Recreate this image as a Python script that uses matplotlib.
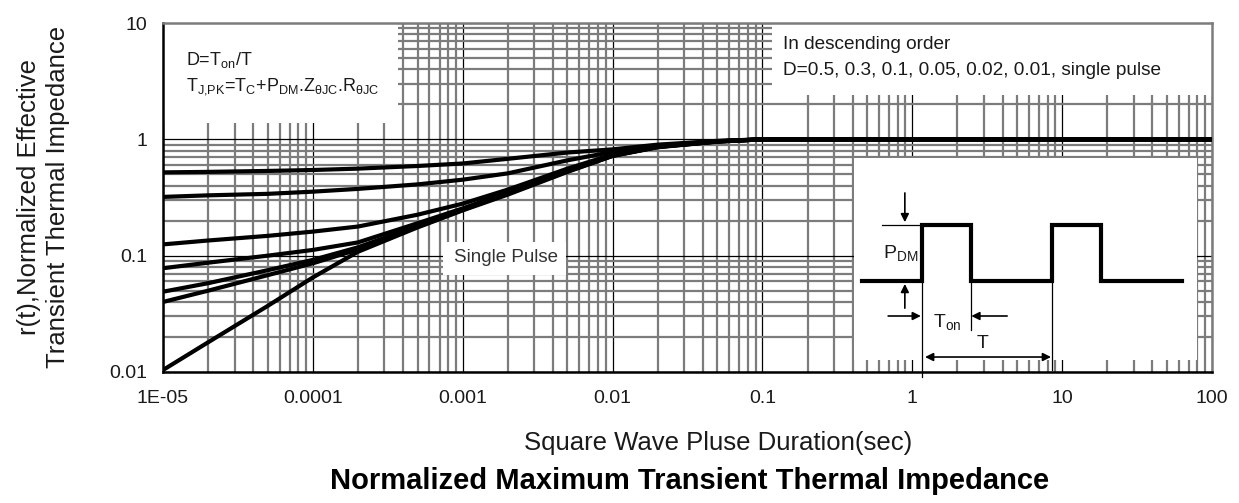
import matplotlib
matplotlib.use("Agg")
import matplotlib.pyplot as plt
from matplotlib.patches import Rectangle
from matplotlib.ticker import FixedLocator, FixedFormatter, LogLocator, NullFormatter

plt.rcParams['font.family'] = ['Liberation Sans', 'DejaVu Sans']
plt.rcParams['mathtext.fontset'] = 'custom'
plt.rcParams['mathtext.rm'] = 'Liberation Sans'
plt.rcParams['mathtext.it'] = 'Liberation Sans:italic'

# pulse duration (sec)
t = [1e-5, 2e-5, 5e-5, 1e-4, 2e-4, 5e-4, 1e-3, 2e-3, 5e-3, 1e-2, 2e-2, 5e-2, 1e-1, 1, 10, 100]

# r(t) for each duty cycle
d050 = [0.52, 0.525, 0.535, 0.545, 0.56, 0.59, 0.62, 0.68, 0.77, 0.82, 0.90, 0.97, 1.0, 1.0, 1.0, 1.0]
d030 = [0.32, 0.33, 0.34, 0.355, 0.375, 0.41, 0.45, 0.51, 0.66, 0.78, 0.88, 0.965, 1.0, 1.0, 1.0, 1.0]
d010 = [0.125, 0.135, 0.148, 0.161, 0.178, 0.225, 0.28, 0.37, 0.56, 0.74, 0.87, 0.96, 1.0, 1.0, 1.0, 1.0]
d005 = [0.078, 0.087, 0.10, 0.112, 0.13, 0.19, 0.255, 0.35, 0.54, 0.73, 0.865, 0.96, 1.0, 1.0, 1.0, 1.0]
d002 = [0.049, 0.058, 0.075, 0.092, 0.118, 0.18, 0.25, 0.345, 0.535, 0.725, 0.86, 0.958, 1.0, 1.0, 1.0, 1.0]
d001 = [0.040, 0.050, 0.068, 0.086, 0.113, 0.177, 0.248, 0.34, 0.53, 0.72, 0.86, 0.958, 1.0, 1.0, 1.0, 1.0]
single = [0.0104, 0.018, 0.037, 0.065, 0.108, 0.175, 0.245, 0.335, 0.525, 0.72, 0.855, 0.955, 1.0, 1.0, 1.0, 1.0]
curves = [d050, d030, d010, d005, d002, d001, single]

xticks = [1e-5, 1e-4, 1e-3, 1e-2, 1e-1, 1, 10, 100]
xticklabels = ['1E-05', '0.0001', '0.001', '0.01', '0.1', '1', '10', '100']
yticks = [0.01, 0.1, 1, 10]
yticklabels = ['0.01', '0.1', '1', '10']

# square wave sketch in the inset (arbitrary units)
wave_t = [2.5, 19.7, 19.7, 33.8, 33.8, 57.1, 57.1, 71.2, 71.2, 94.5]
wave_p = [25.5, 25.5, 41.2, 41.2, 25.5, 25.5, 41.2, 41.2, 25.5, 25.5]

fig = plt.figure(figsize=(12.39, 5.03), dpi=100)
ax = fig.add_axes([163/1239, 1-372/503, 1049/1239, 349/503])
ax.set_xscale('log')
ax.set_yscale('log')
ax.set_xlim(1e-5, 100)
ax.set_ylim(0.01, 10)

ax.xaxis.set_major_locator(FixedLocator(xticks))
ax.xaxis.set_major_formatter(FixedFormatter(xticklabels))
ax.yaxis.set_major_locator(FixedLocator(yticks))
ax.yaxis.set_major_formatter(FixedFormatter(yticklabels))
ax.xaxis.set_minor_locator(LogLocator(base=10, subs=range(2, 10), numticks=20))
ax.yaxis.set_minor_locator(LogLocator(base=10, subs=range(2, 10), numticks=20))
ax.xaxis.set_minor_formatter(NullFormatter())
ax.yaxis.set_minor_formatter(NullFormatter())
ax.tick_params(which='both', length=0)
ax.tick_params(axis='x', pad=13, labelsize=14, labelcolor='#1a1a1a')
ax.tick_params(axis='y', pad=11, labelsize=14, labelcolor='#1a1a1a')

ax.set_axisbelow(True)
ax.grid(which='minor', color='#7c7c7c', lw=1.6)
ax.grid(which='major', color='black', lw=0.9)

for s in ['left', 'bottom']:
    ax.spines[s].set_linewidth(1.8)
    ax.spines[s].set_color('black')
for s in ['top', 'right']:
    ax.spines[s].set_linewidth(1.8)
    ax.spines[s].set_color('#7c7c7c')

# blank areas of the original sheet
ax.add_patch(Rectangle((1e-5, 1.38), 3.7e-4 - 1e-5, 10 - 1.38, facecolor='white', edgecolor='none', zorder=1))
ax.add_patch(Rectangle((0.115, 2.4), 100 - 0.115, 10 - 2.4, facecolor='white', edgecolor='none', zorder=1))
ax.add_patch(Rectangle((0.41, 0.0127), 79 - 0.41, 0.69 - 0.0127, facecolor='white', edgecolor='none', zorder=1))
ax.add_patch(Rectangle((7.4e-4, 0.068), 4.9e-3 - 7.4e-4, 0.131 - 0.068, facecolor='white', edgecolor='none', zorder=1))

for c in curves:
    ax.plot(t, c, color='black', lw=3.0, solid_capstyle='butt', zorder=3)

ax.text(1.94e-3, 0.0955, 'Single Pulse', fontsize=13.5, color='#333333', ha='center', va='center', zorder=4)

ax.text(0.022, 0.894, r'D=T$_{\mathrm{on}}$/T', transform=ax.transAxes, fontsize=13, color='#1a1a1a', va='center')
ax.text(0.022, 0.817, r'T$_{\mathrm{J{,}PK}}$=T$_{\mathrm{C}}$+P$_{\mathrm{DM}}$.Z$_{\mathrm{θJC}}$.R$_{\mathrm{θJC}}$',
        transform=ax.transAxes, fontsize=13, color='#1a1a1a', va='center')
ax.text(0.591, 0.937, 'In descending order', transform=ax.transAxes, fontsize=13.7, color='#1a1a1a', va='center')
ax.text(0.591, 0.865, 'D=0.5, 0.3, 0.1, 0.05, 0.02, 0.01, single pulse', transform=ax.transAxes,
        fontsize=13.7, color='#1a1a1a', va='center')

# inset: square wave power pulse
ins = fig.add_axes([853/1239, 1-372/503, 348/1239, 214/503])
ins.set_xlim(0, 100)
ins.set_ylim(0, 60)
ins.axis('off')
ins.patch.set_alpha(0)
ins.plot(wave_t, wave_p, color='black', lw=3.0, solid_joinstyle='miter')
ins.plot([19.7, 19.7], [25.5, -1.4], color='black', lw=0.9, clip_on=False)
ins.plot([33.8, 33.8], [25.5, 11.8], color='black', lw=0.9)
ins.plot([57.1, 57.1], [25.5, 0.5], color='black', lw=0.9)
ins.plot([8.3, 19.7], [41.2, 41.2], color='black', lw=0.9)
arrow = dict(arrowstyle='-|>', color='black', lw=1.2, mutation_scale=12, shrinkA=0, shrinkB=0)
ins.annotate('', xy=(14.9, 42.0), xytext=(14.9, 50.2), arrowprops=arrow)
ins.annotate('', xy=(14.9, 24.7), xytext=(14.9, 17.9), arrowprops=arrow)
ins.annotate('', xy=(19.5, 15.7), xytext=(10.1, 15.7), arrowprops=arrow)
ins.annotate('', xy=(34.0, 15.7), xytext=(44.3, 15.7), arrowprops=arrow)
ins.annotate('', xy=(56.9, 4.2), xytext=(20.7, 4.2),
             arrowprops=dict(arrowstyle='<|-|>', color='black', lw=1.2, mutation_scale=12, shrinkA=0, shrinkB=0))
ins.text(8.6, 33.4, r'P$_{\mathrm{DM}}$', fontsize=14, color='#1a1a1a', va='center')
ins.text(23.0, 14.0, r'T$_{\mathrm{on}}$', fontsize=14, color='#1a1a1a', va='center')
ins.text(37.2, 8.1, 'T', fontsize=14, color='#1a1a1a', ha='center', va='center')

fig.text(43.5/1239, 1-197/503, 'r(t),Normalized Effective\nTransient Thermal Impedance', rotation=90,
         ha='center', va='center', multialignment='center', fontsize=18.5, color='#1a1a1a', linespacing=1.3)
fig.text(718/1239, 1-443/503, 'Square Wave Pluse Duration(sec)', ha='center', va='center',
         fontsize=18.5, color='#1a1a1a')
fig.text(690/1239, 1-481/503, 'Normalized Maximum Transient Thermal Impedance', ha='center', va='center',
         fontsize=21, fontweight='bold', color='black')

fig.savefig('out.png', dpi=100)
